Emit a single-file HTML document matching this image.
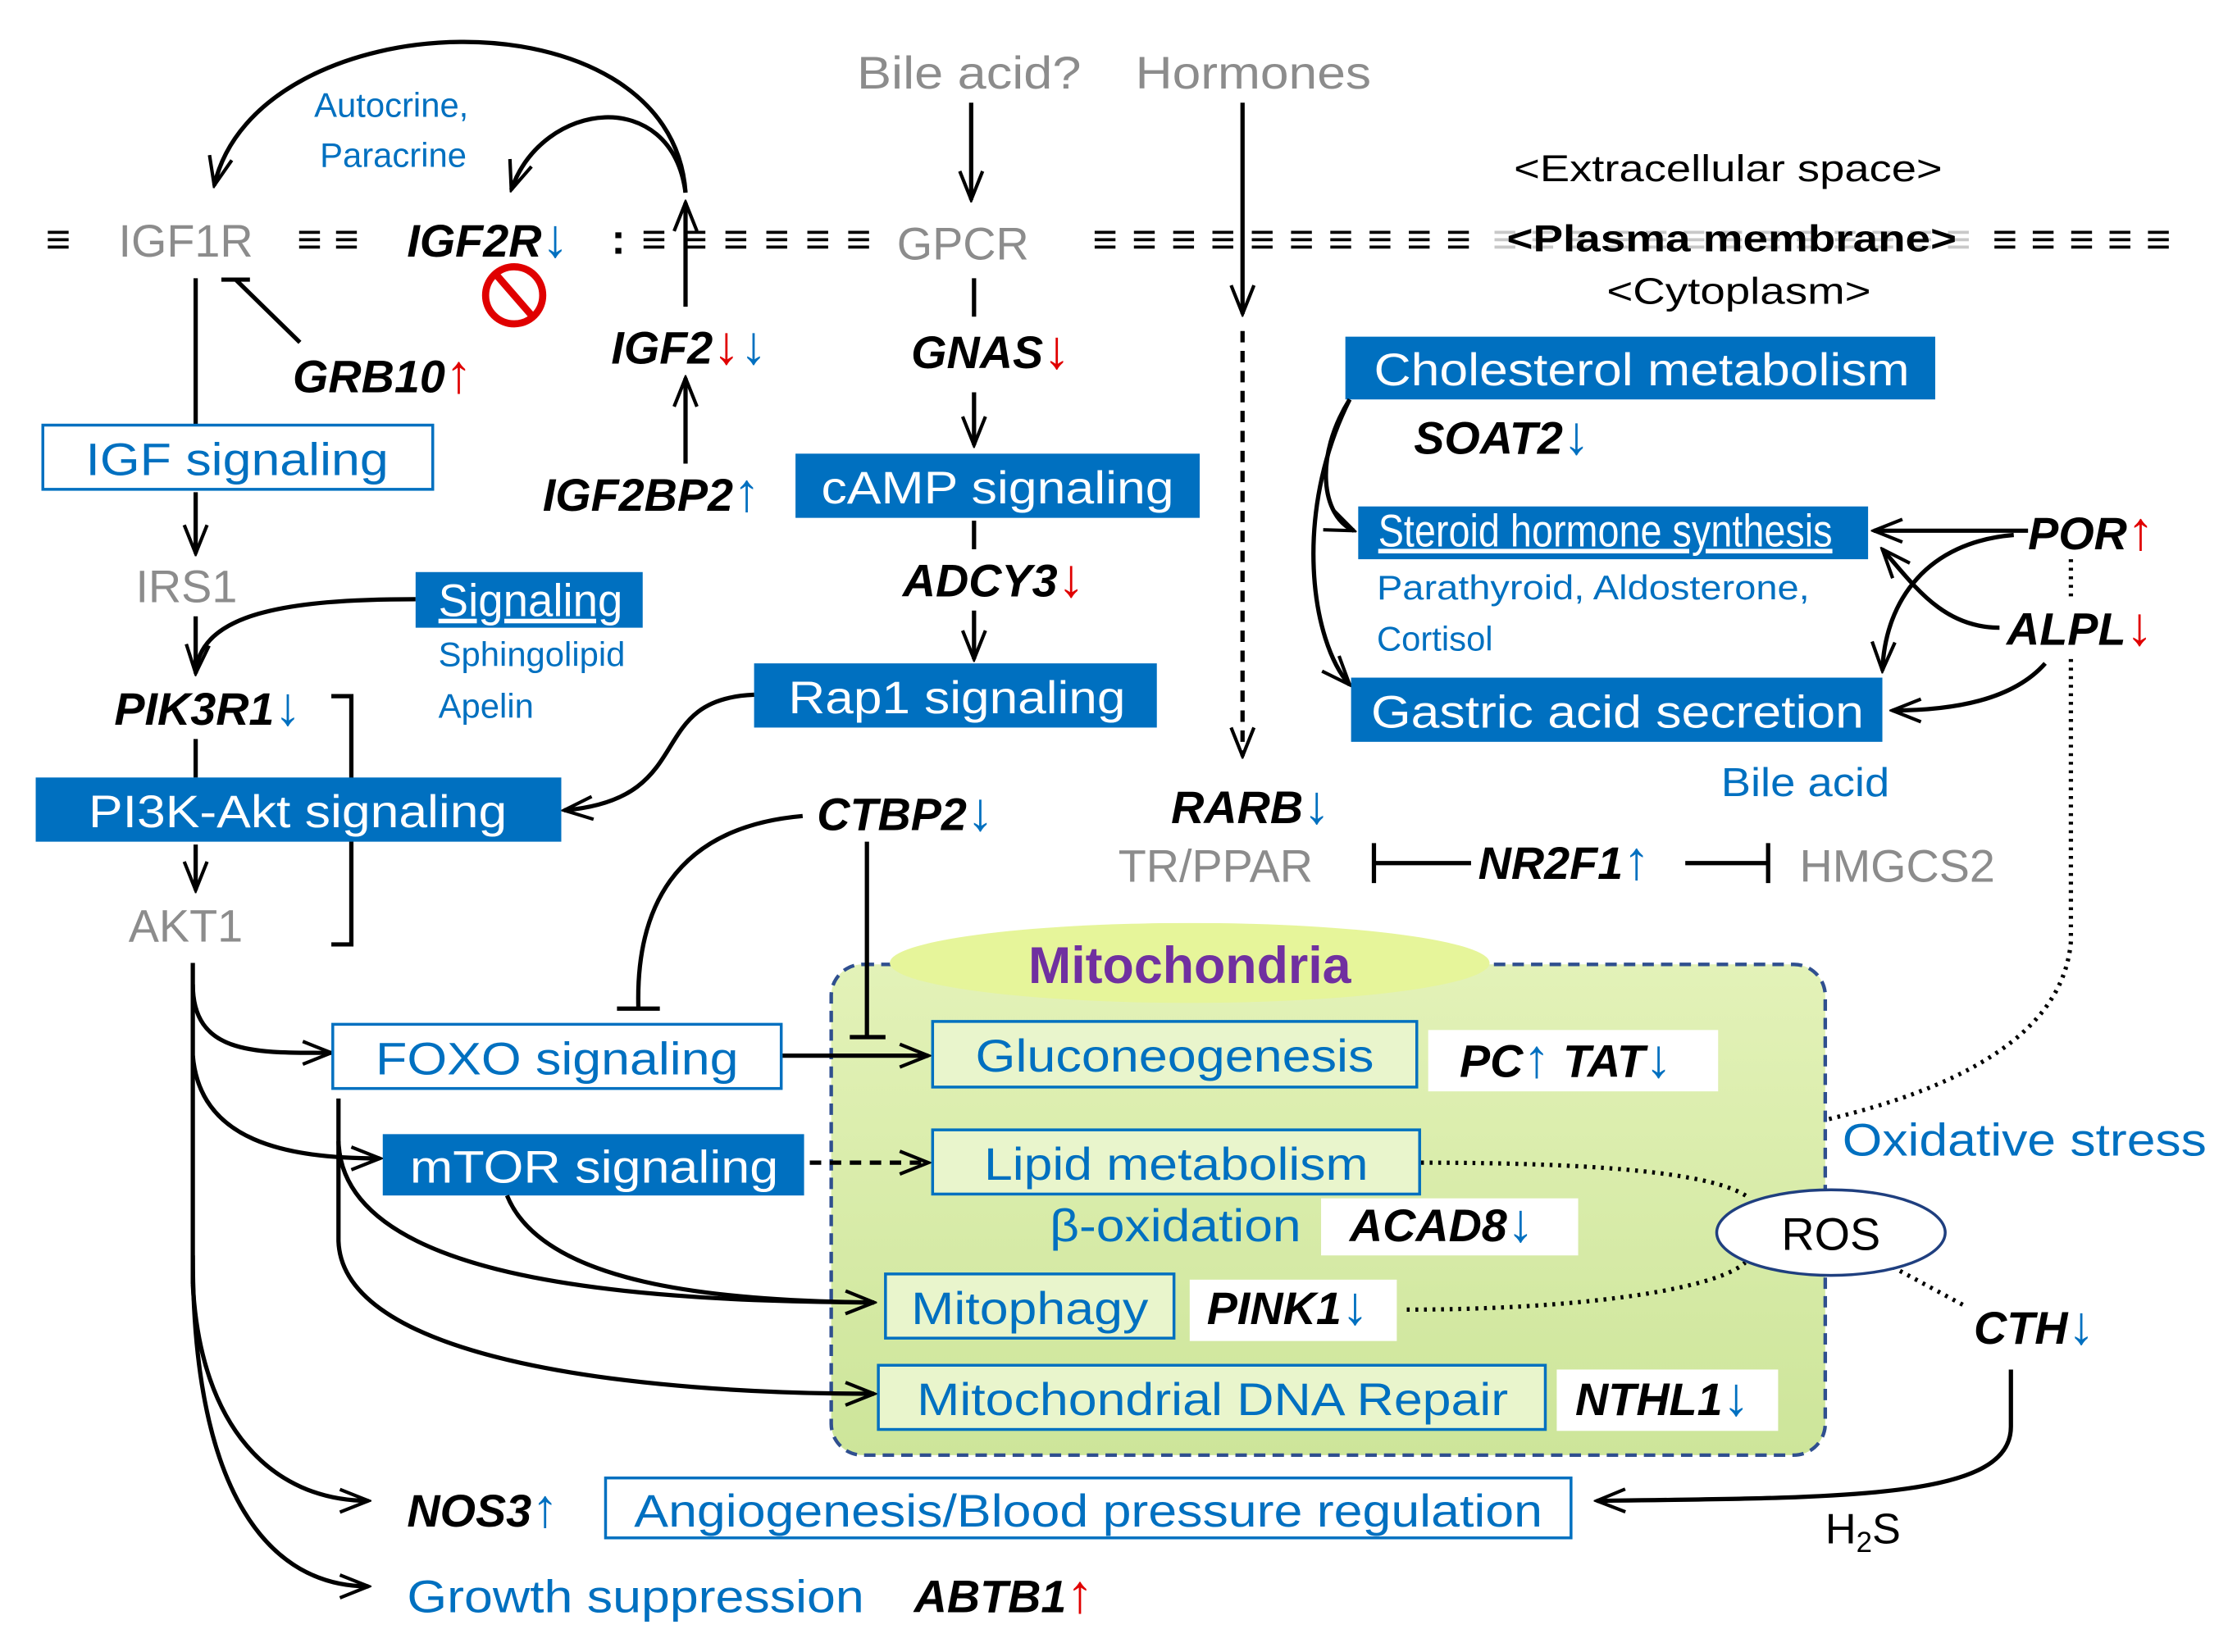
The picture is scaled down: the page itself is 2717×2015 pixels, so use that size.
<!DOCTYPE html>
<html><head><meta charset="utf-8"><style>
html,body{margin:0;padding:0;background:#fff}
svg{display:block}
text{font-family:"Liberation Sans",sans-serif}
.g{font-weight:bold;font-style:italic;font-size:32px;fill:#000}
.gr{fill:#8c8c8c;font-size:32px}
.bl{fill:#0070C0}
.wt{fill:#fff;font-size:32px}
.ob{fill:#0070C0;font-size:32px}
.r{fill:#e00000;font-style:normal;font-weight:normal;font-size:38px}
.b{fill:#0070C0;font-style:normal;font-weight:normal;font-size:38px}
.ln{fill:none;stroke:#000;stroke-width:3}
.dash{font-size:30px;font-weight:bold;fill:#000}
</style></head><body>
<svg width="2717" height="2015" viewBox="0 0 1560 1158" preserveAspectRatio="none" xmlns="http://www.w3.org/2000/svg">
<defs>
<marker id="A" viewBox="0 0 12 12" refX="11" refY="6" markerWidth="24" markerHeight="24" orient="auto" markerUnits="userSpaceOnUse">
<path d="M1,2 L11,6 L1,10" fill="none" stroke="#000" stroke-width="1.2"/></marker>
<linearGradient id="mg" x1="0" y1="0" x2="0" y2="1"><stop offset="0" stop-color="#e3f2b8"/><stop offset="1" stop-color="#cde59a"/></linearGradient>
</defs>

<!-- top texts -->
<text x="600" y="62" class="gr" textLength="157" lengthAdjust="spacingAndGlyphs">Bile acid?</text>
<text x="795" y="62" class="gr" textLength="165" lengthAdjust="spacingAndGlyphs">Hormones</text>
<text x="220" y="82" font-size="24" class="bl">Autocrine,</text>
<text x="224" y="117" font-size="24" class="bl">Paracrine</text>
<text x="1060" y="127" font-size="26" textLength="300" lengthAdjust="spacingAndGlyphs">&lt;Extracellular space&gt;</text>
<text x="1125" y="213" font-size="26" textLength="185" lengthAdjust="spacingAndGlyphs">&lt;Cytoplasm&gt;</text>

<!-- membrane -->
<text x="32" y="178" class="dash">≡</text>
<text x="83" y="180" class="gr">IGF1R</text>
<text x="208" y="178" class="dash">≡ ≡</text>
<text x="285" y="180" class="g">IGF2R<tspan class="b">↓</tspan></text>
<text x="428" y="178" class="dash" textLength="182" lengthAdjust="spacing">: ≡ ≡ ≡ ≡ ≡ ≡</text>
<text x="628" y="182" class="gr">GPCR</text>
<text x="765" y="178" class="dash" textLength="265" lengthAdjust="spacing">≡ ≡ ≡ ≡ ≡ ≡ ≡ ≡ ≡ ≡</text>
<text x="1045" y="178" class="dash" fill="#bbb" style="fill:#c8c8c8" textLength="335" lengthAdjust="spacing">≡ ≡ ≡ ≡ ≡ ≡ ≡ ≡ ≡ ≡ ≡ ≡ ≡</text>
<text x="1055" y="176" font-size="26" font-weight="bold" textLength="315" lengthAdjust="spacingAndGlyphs">&lt;Plasma membrane&gt;</text>
<text x="1395" y="178" class="dash" textLength="125" lengthAdjust="spacing">≡ ≡ ≡ ≡ ≡</text>
<circle cx="360" cy="207" r="20" fill="none" stroke="#e00000" stroke-width="5"/>
<line x1="347" y1="192" x2="373" y2="222" stroke="#e00000" stroke-width="5"/>

<!-- top arcs -->
<path class="ln" d="M480,135 C470,-10 180,0 150,130" marker-end="url(#A)"/>
<path class="ln" d="M480,135 C470,60 380,70 358,133" marker-end="url(#A)"/>
<path class="ln" d="M480,215 L480,142" marker-end="url(#A)"/>
<path class="ln" d="M480,325 L480,265" marker-end="url(#A)"/>
<path class="ln" d="M680,72 L680,140" marker-end="url(#A)"/>
<path class="ln" d="M870,72 L870,220" marker-end="url(#A)"/>
<path class="ln" d="M870,232 L870,530" stroke-dasharray="8,6" marker-end="url(#A)"/>

<!-- left column -->
<path class="ln" d="M137,195 L137,298"/>
<path class="ln" d="M210,240 L165,196 M155,196 L175,196"/>
<text x="205" y="275" class="g">GRB10<tspan class="r">↑</tspan></text>
<text x="428" y="255" class="g">IGF2<tspan class="r">↓</tspan><tspan class="b">↓</tspan></text>
<text x="380" y="358" class="g">IGF2BP2<tspan class="b">↑</tspan></text>
<rect x="30" y="298" width="273" height="45" fill="#fff" stroke="#0070C0" stroke-width="2"/>
<text x="60" y="333" class="ob" textLength="212" lengthAdjust="spacingAndGlyphs">IGF signaling</text>
<path class="ln" d="M137,345 L137,388" marker-end="url(#A)"/>
<text x="95" y="422" class="gr">IRS1</text>
<path class="ln" d="M291,420 C200,420 140,430 137,472" marker-end="url(#A)"/>
<path class="ln" d="M137,432 L137,472"/>
<rect x="291" y="401" width="159" height="39" fill="#0070C0"/>
<text x="307" y="432" class="wt" font-size="28" text-decoration="underline" textLength="129" lengthAdjust="spacingAndGlyphs">Signaling</text>
<text x="307" y="467" font-size="24" class="bl">Sphingolipid</text>
<text x="307" y="503" font-size="24" class="bl">Apelin</text>
<text x="80" y="508" class="g">PIK3R1<tspan class="b">↓</tspan></text>
<path class="ln" d="M137,518 L137,545"/>
<path class="ln" d="M232,488 L246,488 L246,662 L232,662"/>
<rect x="25" y="545" width="368" height="45" fill="#0070C0"/>
<text x="62" y="580" class="wt" textLength="293" lengthAdjust="spacingAndGlyphs">PI3K-Akt signaling</text>
<path class="ln" d="M137,592 L137,624" marker-end="url(#A)"/>
<text x="90" y="660" class="gr">AKT1</text>

<!-- middle column -->
<path class="ln" d="M682,195 L682,222"/>
<text x="638" y="258" class="g">GNAS<tspan class="r">↓</tspan></text>
<path class="ln" d="M682,275 L682,312" marker-end="url(#A)"/>
<rect x="557" y="318" width="283" height="45" fill="#0070C0"/>
<text x="575" y="353" class="wt" textLength="247" lengthAdjust="spacingAndGlyphs">cAMP signaling</text>
<path class="ln" d="M682,365 L682,385"/>
<text x="632" y="418" class="g">ADCY3<tspan class="r">↓</tspan></text>
<path class="ln" d="M682,428 L682,462" marker-end="url(#A)"/>
<rect x="528" y="465" width="282" height="45" fill="#0070C0"/>
<text x="552" y="500" class="wt" textLength="236" lengthAdjust="spacingAndGlyphs">Rap1 signaling</text>
<path class="ln" d="M528,487 C450,490 490,560 395,568" marker-end="url(#A)"/>

<!-- right upper -->
<rect x="942" y="236" width="413" height="44" fill="#0070C0"/>
<text x="962" y="270" class="wt" textLength="375" lengthAdjust="spacingAndGlyphs">Cholesterol metabolism</text>
<text x="990" y="318" class="g">SOAT2<tspan class="b">↓</tspan></text>
<path class="ln" d="M945,280 C920,320 925,362 948,372" marker-end="url(#A)"/>
<path class="ln" d="M945,280 C905,360 918,450 945,480" marker-end="url(#A)"/>
<rect x="951" y="355" width="357" height="37" fill="#0070C0"/>
<text x="965" y="383" class="wt" font-size="24" text-decoration="underline" textLength="318" lengthAdjust="spacingAndGlyphs">Steroid hormone synthesis</text>
<text x="964" y="420" font-size="24" class="bl" textLength="303" lengthAdjust="spacingAndGlyphs">Parathyroid, Aldosterone,</text>
<text x="964" y="456" font-size="24" class="bl">Cortisol</text>
<rect x="946" y="475" width="372" height="45" fill="#0070C0"/>
<text x="960" y="510" class="wt" textLength="345" lengthAdjust="spacingAndGlyphs">Gastric acid secretion</text>
<text x="1205" y="558" font-size="28" class="bl" textLength="118" lengthAdjust="spacingAndGlyphs">Bile acid</text>
<text x="1420" y="385" class="g">POR<tspan class="r">↑</tspan></text>
<text x="1405" y="452" class="g">ALPL<tspan class="r">↓</tspan></text>
<path class="ln" d="M1420,372 L1312,372" marker-end="url(#A)"/>
<path class="ln" d="M1410,375 C1350,380 1320,420 1318,470" marker-end="url(#A)"/>
<path class="ln" d="M1400,440 C1360,440 1340,410 1318,385" marker-end="url(#A)"/>
<path class="ln" d="M1432,465 C1410,490 1370,498 1325,498" marker-end="url(#A)"/>
<path class="ln" d="M1450,392 L1450,418" stroke-dasharray="2,4"/>
<path class="ln" d="M1450,462 L1450,660 C1440,780 1200,810 995,815" stroke-dasharray="2,4"/>

<!-- RARB / NR2F1 -->
<text x="820" y="577" class="g">RARB<tspan class="b">↓</tspan></text>
<text x="783" y="618" class="gr">TR/PPAR</text>
<text x="1035" y="616" class="g">NR2F1<tspan class="b">↑</tspan></text>
<text x="1260" y="618" class="gr">HMGCS2</text>
<path class="ln" d="M1030,605 L962,605 M962,591 L962,619"/>
<path class="ln" d="M1180,605 L1238,605 M1238,591 L1238,619"/>

<!-- CTBP2 -->
<text x="572" y="582" class="g">CTBP2<tspan class="b">↓</tspan></text>
<path class="ln" d="M562,572 C470,580 445,640 447,707 M432,707 L462,707"/>

<!-- mitochondria -->
<rect x="582" y="676" width="696" height="344" rx="22" fill="url(#mg)" stroke="#2f4f8f" stroke-width="2.5" stroke-dasharray="8,5"/>
<ellipse cx="833" cy="675" rx="210" ry="28" fill="#e6f59a"/>
<text x="833" y="689" text-anchor="middle" font-size="36" font-weight="bold" fill="#7030A0">Mitochondria</text>
<path class="ln" d="M607,590 L607,727 M595,727 L620,727"/>
<rect x="653" y="716" width="339" height="46" fill="#e9f5cc" stroke="#0070C0" stroke-width="2"/>
<text x="683" y="751" class="ob" textLength="279" lengthAdjust="spacingAndGlyphs">Gluconeogenesis</text>
<rect x="1000" y="722" width="203" height="43" fill="#fff"/>
<text x="1022" y="755" class="g">PC<tspan class="b">↑</tspan> TAT<tspan class="b">↓</tspan></text>
<rect x="653" y="792" width="341" height="45" fill="#e9f5cc" stroke="#0070C0" stroke-width="2"/>
<text x="689" y="827" class="ob" textLength="269" lengthAdjust="spacingAndGlyphs">Lipid metabolism</text>
<text x="735" y="870" font-size="32" class="bl" textLength="176" lengthAdjust="spacingAndGlyphs">β-oxidation</text>
<rect x="925" y="840" width="180" height="40" fill="#fff"/>
<text x="945" y="870" class="g">ACAD8<tspan class="b">↓</tspan></text>
<rect x="620" y="893" width="202" height="45" fill="#e9f5cc" stroke="#0070C0" stroke-width="2"/>
<text x="638" y="928" class="ob" textLength="166" lengthAdjust="spacingAndGlyphs">Mitophagy</text>
<rect x="833" y="897" width="145" height="43" fill="#fff"/>
<text x="845" y="928" class="g">PINK1<tspan class="b">↓</tspan></text>
<rect x="615" y="957" width="467" height="45" fill="#e9f5cc" stroke="#0070C0" stroke-width="2"/>
<text x="642" y="992" class="ob" textLength="414" lengthAdjust="spacingAndGlyphs">Mitochondrial DNA Repair</text>
<rect x="1090" y="960" width="155" height="43" fill="#fff"/>
<text x="1103" y="992" class="g">NTHL1<tspan class="b">↓</tspan></text>

<!-- ROS -->
<path class="ln" d="M995,815 C1100,815 1200,820 1225,840" stroke-dasharray="2,4"/>
<path class="ln" d="M985,918 C1100,918 1200,905 1222,885" stroke-dasharray="2,4"/>
<path class="ln" d="M1325,888 L1375,915" stroke-dasharray="2,4"/>
<ellipse cx="1282" cy="864" rx="80" ry="30" fill="#fff" stroke="#1f3f7f" stroke-width="2"/>
<text x="1282" y="876" text-anchor="middle" font-size="32">ROS</text>
<text x="1290" y="810" font-size="32" class="bl" textLength="255" lengthAdjust="spacingAndGlyphs">Oxidative stress</text>
<text x="1382" y="942" class="g">CTH<tspan class="b">↓</tspan></text>
<path class="ln" d="M1408,960 L1408,1000 C1408,1050 1300,1050 1118,1052" marker-end="url(#A)"/>
<text x="1278" y="1082" font-size="30">H<tspan font-size="20" dy="6">2</tspan><tspan dy="-6">S</tspan></text>

<!-- AKT branches -->
<path class="ln" d="M135,675 L135,900"/>
<path class="ln" d="M135,690 C135,740 180,738 232,738" marker-end="url(#A)"/>
<rect x="233" y="718" width="314" height="45" fill="#fff" stroke="#0070C0" stroke-width="2"/>
<text x="263" y="753" class="ob" textLength="254" lengthAdjust="spacingAndGlyphs">FOXO signaling</text>
<path class="ln" d="M548,740 L650,740" marker-end="url(#A)"/>
<path class="ln" d="M135,740 C140,800 200,812 266,812" marker-end="url(#A)"/>
<rect x="268" y="795" width="295" height="43" fill="#0070C0"/>
<text x="287" y="829" class="wt" textLength="258" lengthAdjust="spacingAndGlyphs">mTOR signaling</text>
<path class="ln" d="M567,815 L650,815" stroke-dasharray="8,6" marker-end="url(#A)"/>
<path class="ln" d="M237,770 L237,870 C240,955 450,977 612,977" marker-end="url(#A)"/>
<path class="ln" d="M237,800 C240,900 450,912 612,913" marker-end="url(#A)"/>
<path class="ln" d="M355,838 C380,900 500,912 612,913"/>
<path class="ln" d="M135,900 C140,1000 190,1052 258,1052" marker-end="url(#A)"/>
<path class="ln" d="M135,880 C135,1050 190,1112 258,1112" marker-end="url(#A)"/>

<text x="285" y="1070" class="g">NOS3<tspan class="b">↑</tspan></text>
<rect x="424" y="1036" width="676" height="42" fill="#fff" stroke="#0070C0" stroke-width="2"/>
<text x="444" y="1070" class="ob" textLength="636" lengthAdjust="spacingAndGlyphs">Angiogenesis/Blood pressure regulation</text>
<text x="285" y="1130" font-size="32" class="bl" textLength="320" lengthAdjust="spacingAndGlyphs">Growth suppression</text>
<text x="640" y="1130" class="g">ABTB1<tspan class="r">↑</tspan></text>
</svg>
</body></html>
